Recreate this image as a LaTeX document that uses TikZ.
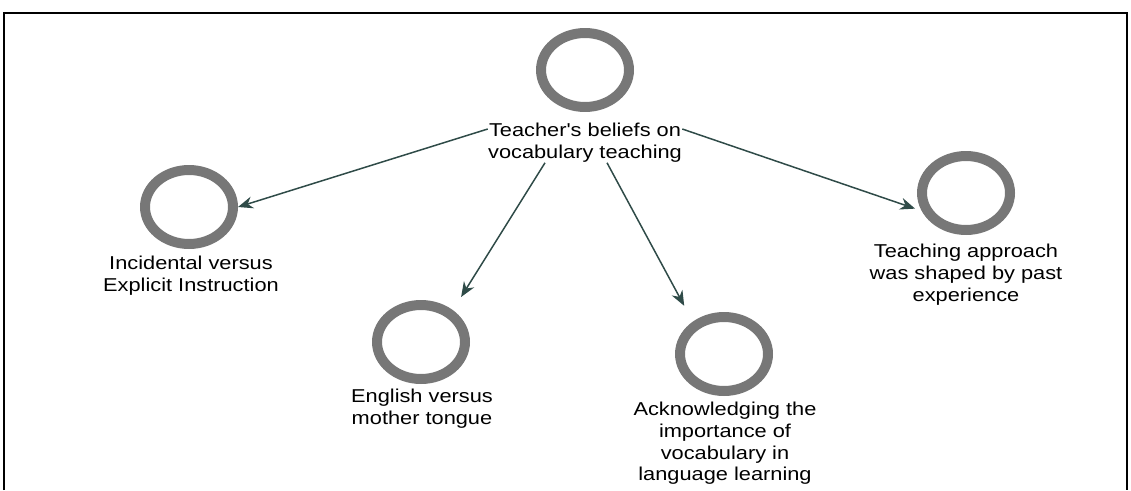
\documentclass[tikz,border=0pt]{standalone}
\usepackage{fontspec}
\newfontfamily\labelfont[FakeStretch=1.17]{Liberation Sans}
\usetikzlibrary{shapes.geometric,arrows.meta}
\definecolor{ringgray}{HTML}{777777}
\definecolor{arrowslate}{HTML}{2F4B48}
\begin{document}
\begin{tikzpicture}[x=0.02cm,y=-0.02cm,
  ring/.style={ellipse,draw=ringgray,line width=0.2cm,minimum width=1.76cm,minimum height=1.48cm,inner sep=0pt},
  theme/.style={align=center,inner sep=0pt,anchor=north,text=black,font=\labelfont\fontsize{10.6}{12.35}\selectfont},
  link/.style={draw=arrowslate,line width=0.85pt,-{Stealth[length=0.3cm,width=0.24cm]}}]
\useasboundingbox (0,0) rectangle (1131,490);
\draw[line width=1.2pt] (4,490) -- (4,13) -- (1127,13) -- (1127,490);

\node[ring] (beliefs) at (585,70) {};
\node[ring] (incidental) at (189,207) {};
\node[ring] (english) at (421,342) {};
\node[ring] (acknowledge) at (724,354) {};
\node[ring] (approach) at (966,193) {};

\node[theme] (beliefslabel) at (585,123) {Teacher's beliefs on\\vocabulary teaching};
\node[theme] (incidentallabel) at (191,256) {Incidental versus\\Explicit Instruction};
\node[theme] (englishlabel) at (422,389) {English versus\\mother tongue};
\node[theme] (acknowledgelabel) at (725,402) {Acknowledging the\\importance of\\vocabulary in\\language learning};
\node[theme] (approachlabel) at (966,244) {Teaching approach\\was shaped by past\\experience};

\draw[link] ([yshift=-0.12cm]beliefslabel.north west) -- (incidental.east);
\draw[link,shorten >=0.31cm] ([xshift=-0.8cm]beliefslabel.south) -- (english.45);
\draw[link,shorten >=0.36cm] ([xshift=0.44cm]beliefslabel.south) -- (acknowledge.134);
\draw[link,shorten >=0.14cm] ([yshift=-0.12cm]beliefslabel.north east) -- (approach.202);
\end{tikzpicture}
\end{document}
